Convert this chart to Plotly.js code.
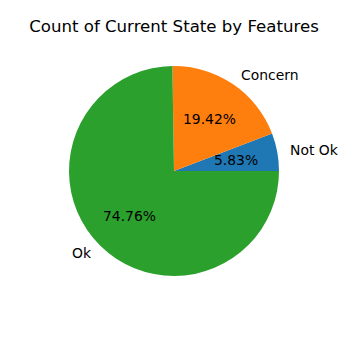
<!DOCTYPE html>
<html><head><meta charset="utf-8">
<script src="https://cdn.plot.ly/plotly-3.0.1.min.js"></script>
<style>html,body{margin:0;padding:0;background:#fff}</style>
</head><body>
<div id="chart" style="width:340px;height:340px"></div>
<script>
const labels = ["Not Ok", "Concern", "Ok"];
const counts = [6, 20, 77];
const colors = ["#1f77b4", "#ff7f0e", "#2ca02c"];
const titleText = "Count of Current State by Features";

const W = 340, H = 340;
const cx = 174, cy = 171, R = 105;
const dom = {
  x: [(cx - R) / W, (cx + R) / W],
  y: [(H - cy - R) / H, (H - cy + R) / H]
};

const total = counts.reduce((a, b) => a + b, 0);
const annotations = [];
let start = 0;
const font = {family: "DejaVu Sans", size: 13.9, color: "#000"};
counts.forEach((v, i) => {
  const frac = v / total;
  const mid = (start + frac / 2) * 2 * Math.PI;
  start += frac;
  const ux = Math.cos(mid), uy = Math.sin(mid);
  annotations.push({
    xref: "paper", yref: "paper",
    x: (cx + 1.1 * R * ux) / W, y: (H - cy + 1.1 * R * uy) / H,
    text: labels[i], showarrow: false,
    xanchor: ux > 0 ? "left" : "right", yanchor: "middle",
    font: font
  });
  annotations.push({
    xref: "paper", yref: "paper",
    x: (cx + 0.6 * R * ux) / W, y: (H - cy + 0.6 * R * uy) / H,
    text: (frac * 100).toFixed(2) + "%", showarrow: false,
    xanchor: "center", yanchor: "middle",
    font: font
  });
});

const data = [{
  type: "pie",
  labels: labels,
  values: counts,
  sort: false,
  direction: "counterclockwise",
  rotation: 90 - 360 * counts[0] / total,
  marker: {colors: colors, line: {width: 0}},
  textinfo: "none",
  hoverinfo: "none",
  showlegend: false,
  domain: dom
}];

const layout = {
  width: W, height: H,
  margin: {l: 0, r: 0, t: 0, b: 0},
  paper_bgcolor: "#fff",
  plot_bgcolor: "#fff",
  showlegend: false,
  title: {
    text: titleText,
    font: {family: "DejaVu Sans", size: 16.6, color: "#000"},
    x: cx / W, xanchor: "center", xref: "paper",
    y: 1 - 26 / H, yanchor: "middle", yref: "paper"
  },
  annotations: annotations
};

Plotly.newPlot("chart", data, layout, {displayModeBar: false, staticPlot: true});
</script>
</body></html>
